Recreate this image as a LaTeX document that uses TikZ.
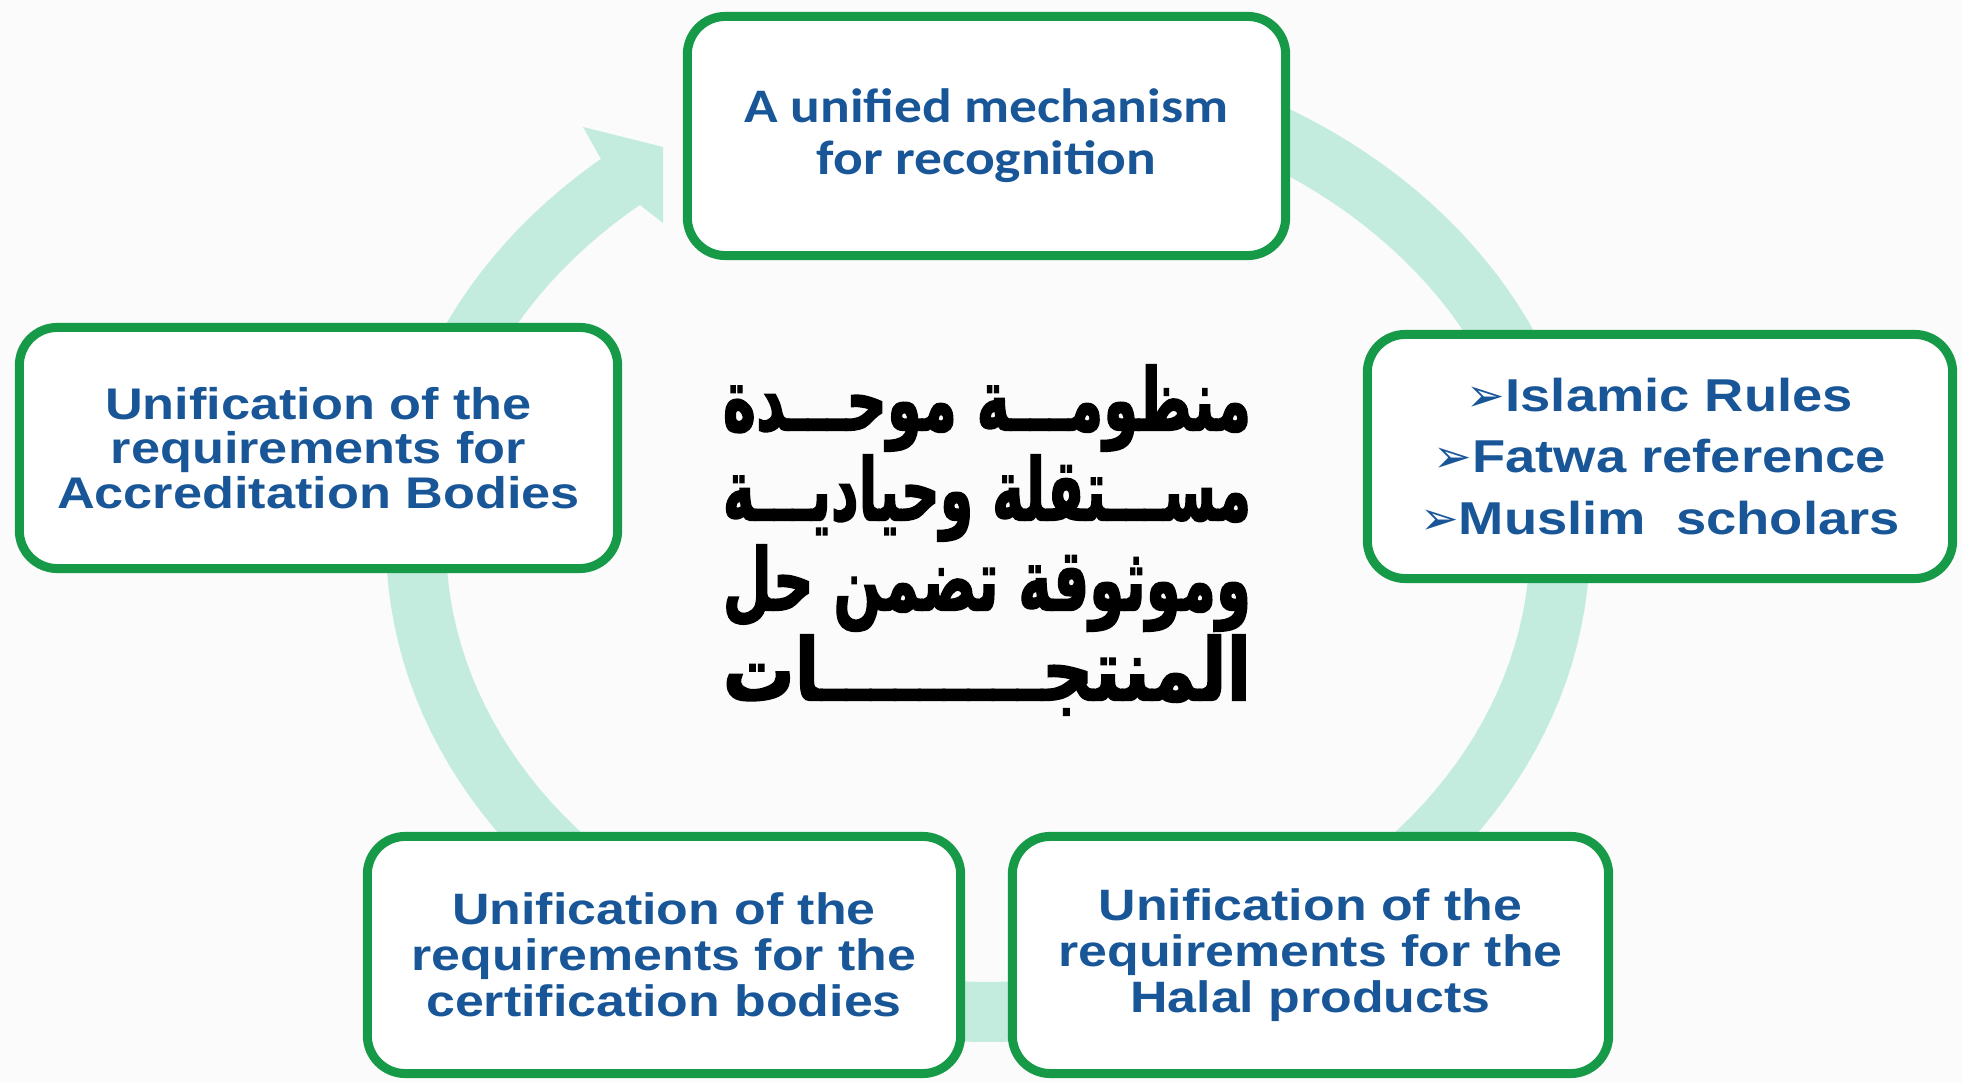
\documentclass[tikz,border=0pt]{standalone}
\usepackage{fontspec}
\usepackage{graphicx}
\TeXXeTstate=1
\setmainfont{Liberation Sans}
\newfontfamily\arialfont{Liberation Sans}[FakeStretch=1.18]
\newfontfamily\calfont{Carlito}[FakeStretch=1.15]
\newfontfamily\symfont{DejaVu Sans}
\newfontfamily\arabicfont[Script=Arabic,BoldFeatures={FakeBold=2.2}]{DejaVu Sans}
\definecolor{bgc}{RGB}{250,251,250}
\definecolor{mint}{RGB}{196,236,222}
\definecolor{boxgreen}{RGB}{22,154,72}
\definecolor{txtblue}{RGB}{24,86,152}
\newcommand{\bul}{{\symfont\mdseries ➢}}
\begin{document}
\begin{tikzpicture}[x=0.01cm,y=-0.01cm,
  card/.style={draw=boxgreen, line width=0.09cm, fill=white, rounded corners=0.38cm,
    inner sep=0pt, align=center, text=txtblue},
  arialtxt/.style={font=\arialfont\bfseries\fontsize{12.6}{12.6}\selectfont},
  bandline/.style={draw=mint, line width=0.6cm}]
\useasboundingbox (0,0) rectangle (1962,1083);
\fill[bgc] (0,0) rectangle (1962,1083);
% circular band
\draw[bandline] plot[domain=-80:231, samples=150] ({988+572*cos(\x)},{542+470*sin(\x)});
\fill[mint] (601,159) -- (583,127) -- (663,147) -- (663,223) -- (640,205) -- cycle;
% boxes
\node[card, minimum width=5.98cm, minimum height=2.39cm,
  font=\calfont\bfseries\fontsize{13.7}{14.8}\selectfont] (top) at (986.5,136)
  {A unified mechanism\\for recognition};
\node[card, minimum width=5.85cm, minimum height=2.44cm,
  font=\arialfont\bfseries\fontsize{13.1}{17.6}\selectfont] (rules) at (1660,456.5)
  {\bul Islamic Rules\\\bul Fatwa reference\\\bul Muslim\ \ scholars};
\node[card, arialtxt, minimum width=5.98cm, minimum height=2.41cm] (accr) at (318.5,448)
  {Unification of the\\requirements for\\Accreditation Bodies};
\node[card, font=\arialfont\bfseries\fontsize{12.5}{13.1}\selectfont,
  minimum width=5.93cm, minimum height=2.37cm] (cert) at (664,955)
  {Unification of the\\requirements for the\\certification bodies};
\node[card, font=\arialfont\bfseries\fontsize{12.5}{13.1}\selectfont,
  minimum width=5.96cm, minimum height=2.37cm] (halal) at (1310.5,955)
  {Unification of the\\requirements for the\\Halal products};
% central Arabic text
\node[font=\arabicfont\bfseries\fontsize{24.5}{25.6}\selectfont, align=center, text=black,
  inner sep=0pt] (ar) at (987,540)
  {\resizebox{5.28cm}{\height}{\beginR منظومـــة موحـــدة\endR}\\
   \resizebox{5.28cm}{\height}{\beginR مســـتقلة وحياديـــة\endR}\\
   \resizebox{5.28cm}{\height}{\beginR وموثوقة تضمن حل\endR}\\
   \resizebox{5.28cm}{\height}{\beginR المنتجـــــــــات\endR}};
\end{tikzpicture}
\end{document}
